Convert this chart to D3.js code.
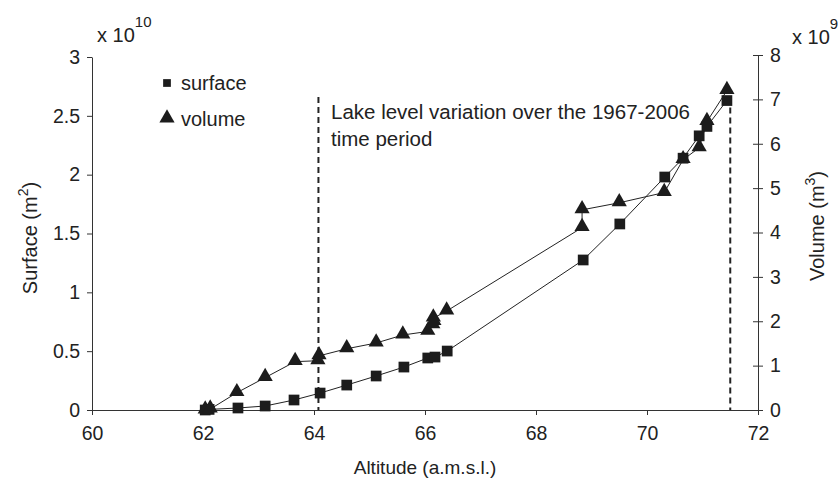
<!DOCTYPE html>
<html>
<head>
  <meta charset="utf-8">
  <script src="https://d3js.org/d3.v7.min.js"></script>
  <style>
    body { margin: 0; background: #fff; }
    text { font-family: "Liberation Sans", Arial, sans-serif; fill: #222; }
    .axis path, .axis line { stroke: #333; stroke-width: 1px; }
    .axis text { font-size: 19.5px; fill: #222; }
    .curve { fill: none; stroke: #222; stroke-width: 1px; }
  </style>
</head>
<body>
<div id="chart"></div>
<script>
// Surface (x 10^10 m2) against altitude
const surfaceAlt = [62.04, 62.11, 62.63, 63.12, 63.64, 64.11, 64.59, 65.12, 65.62, 66.05, 66.18, 66.40, 68.85, 69.51, 70.32, 70.65, 70.94, 71.08, 71.44];
const surfaceVal = [0.0, 0.005, 0.017, 0.034, 0.085, 0.144, 0.212, 0.289, 0.365, 0.442, 0.45, 0.501, 1.275, 1.581, 1.98, 2.14, 2.33, 2.41, 2.63];

// Volume (x 10^9 m3) against altitude
const volumeAlt = [62.04, 62.13, 62.61, 63.12, 63.66, 64.07, 64.09, 64.59, 65.12, 65.60, 66.05, 66.14, 66.16, 66.15, 66.39, 68.83, 68.83, 69.50, 70.31, 70.65, 70.94, 71.08, 71.44];
const volumeVal = [0.0, 0.02, 0.39, 0.73, 1.09, 1.11, 1.22, 1.38, 1.51, 1.69, 1.77, 1.92, 1.99, 2.07, 2.23, 4.11, 4.51, 4.67, 4.90, 5.64, 5.91, 6.50, 7.20];

// lake level range 1967-2006 (altitude) and top of the dashed markers (surface units)
const periodAlt = [64.08, 71.5];
const periodTop = [2.66, 2.57];

const xTicks = [60, 62, 64, 66, 68, 70, 72];
const surfaceTicks = [0, 0.5, 1, 1.5, 2, 2.5, 3];
const volumeTicks = [0, 1, 2, 3, 4, 5, 6, 7, 8];

const W = 838, H = 481;
const svg = d3.select("#chart").append("svg")
  .attr("width", W).attr("height", H);

const x = d3.scaleLinear().domain([60, 72]).range([92, 758]);
const yL = d3.scaleLinear().domain([0, 3]).range([410, 57]);
const yR = d3.scaleLinear().domain([0, 8]).range([410, 55]);

// axes
svg.append("g").attr("class", "axis")
  .attr("transform", "translate(0,410)")
  .call(d3.axisBottom(x).tickValues(xTicks).tickSize(5).tickSizeOuter(0).tickPadding(11).tickFormat(d3.format("d")));

svg.append("g").attr("class", "axis")
  .attr("transform", "translate(92,0)")
  .call(d3.axisLeft(yL).tickValues(surfaceTicks).tickSize(5).tickSizeOuter(0).tickPadding(7).tickFormat(d => d));

const right = svg.append("g").attr("class", "axis")
  .attr("transform", "translate(758,0)")
  .call(d3.axisRight(yR).tickValues(volumeTicks).tickSize(5).tickSizeOuter(0).tickPadding(7).tickFormat(d => d));
right.selectAll(".tick line").attr("x1", -5);

svg.selectAll(".axis .domain").attr("stroke", "#333");

// dashed period lines
svg.selectAll(".period").data(periodAlt).join("line")
  .attr("class", "period")
  .attr("x1", d => x(d)).attr("x2", d => x(d))
  .attr("y1", (d, i) => yL(periodTop[i])).attr("y2", yL(0))
  .attr("stroke", "#222").attr("stroke-width", 2)
  .attr("stroke-dasharray", "6,4");

// lines
const surfPts = surfaceAlt.map((a, i) => [x(a), yL(surfaceVal[i])]);
const volPts = volumeAlt.map((a, i) => [x(a), yR(volumeVal[i])]);

svg.append("path").attr("class", "curve").attr("d", d3.line()(surfPts));
svg.append("path").attr("class", "curve").attr("d", d3.line()(volPts));

// markers
const sq = d3.symbol().type(d3.symbolSquare).size(115);
const tri = d3.symbol().type(d3.symbolTriangle).size(100);

svg.selectAll(".sq").data(surfPts).join("path")
  .attr("class", "sq")
  .attr("transform", d => `translate(${d[0]},${d[1]})`)
  .attr("d", sq).attr("fill", "#1c1c1c");

svg.selectAll(".tri").data(volPts).join("path")
  .attr("class", "tri")
  .attr("transform", d => `translate(${d[0]},${d[1] - 1})`)
  .attr("d", tri).attr("fill", "#1c1c1c");

// legend
const legend = svg.append("g").attr("transform", "translate(167,0)");
legend.append("path").attr("transform", "translate(0,83)")
  .attr("d", d3.symbol().type(d3.symbolSquare).size(60)).attr("fill", "#1c1c1c");
legend.append("text").attr("x", 14).attr("y", 90).style("font-size", "20px").text("surface");
legend.append("path").attr("transform", "translate(0,118)")
  .attr("d", d3.symbol().type(d3.symbolTriangle).size(100)).attr("fill", "#1c1c1c");
legend.append("text").attr("x", 14).attr("y", 126).style("font-size", "20px").text("volume");

// annotation
const note = svg.append("text").attr("x", 331).style("font-size", "20.5px");
note.append("tspan").attr("x", 331).attr("y", 119).text("Lake level variation over the 1967-2006");
note.append("tspan").attr("x", 331).attr("y", 146).text("time period");

// exponent labels
const expL = svg.append("text").attr("x", 97).attr("y", 42).style("font-size", "20px");
expL.append("tspan").text("x 10");
expL.append("tspan").attr("dy", -15).style("font-size", "15px").text("10");

const expR = svg.append("text").attr("x", 792).attr("y", 44).style("font-size", "20px");
expR.append("tspan").text("x 10");
expR.append("tspan").attr("dy", -15).style("font-size", "15px").text("9");

// axis titles
svg.append("text").attr("x", 425).attr("y", 474)
  .attr("text-anchor", "middle").style("font-size", "19px")
  .text("Altitude (a.m.s.l.)");

const tL = svg.append("text")
  .attr("transform", "translate(37,238) rotate(-90)")
  .attr("text-anchor", "middle").style("font-size", "20px");
tL.append("tspan").text("Surface (m");
tL.append("tspan").attr("dy", -9).style("font-size", "14px").text("2");
tL.append("tspan").attr("dy", 9).text(")");

const tR = svg.append("text")
  .attr("transform", "translate(824,226) rotate(-90)")
  .attr("text-anchor", "middle").style("font-size", "20px");
tR.append("tspan").text("Volume (m");
tR.append("tspan").attr("dy", -9).style("font-size", "14px").text("3");
tR.append("tspan").attr("dy", 9).text(")");
</script>
</body>
</html>
